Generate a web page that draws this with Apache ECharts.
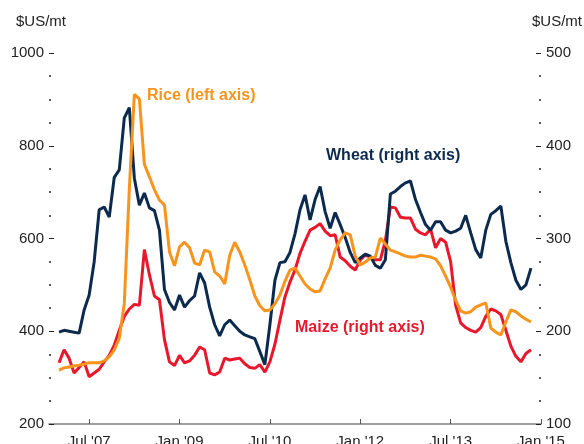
<!DOCTYPE html>
<html>
<head>
<meta charset="utf-8">
<script src="https://cdn.jsdelivr.net/npm/echarts@6/dist/echarts.min.js"></script>
<style>
  html, body { margin: 0; padding: 0; background: #fff; }
  #chart { width: 584px; height: 444px; }
</style>
</head>
<body>
<div id="chart"></div>
<script>
// months counted from Jul 2007 (= 0); data run monthly from Jan 2007
const firstMonth = -6;
const xTickPos = [0, 18, 36, 54, 72, 90];
const xTickLabels = ["Jul '07", "Jan '09", "Jul '10", "Jan '12", "Jul '13", "Jan '15"];

// $US/mt, right axis
const wheat = [199, 201, 200, 199, 198, 223, 239, 275, 331, 334,
  323, 366, 374, 430, 441, 365, 336, 349, 333, 330,
  309, 245, 231, 223, 239, 226, 233, 238, 263, 252,
  226, 207, 195, 207, 212, 206, 200, 196, 194, 192,
  178, 164, 207, 255, 274, 275, 285, 305, 331, 347,
  320, 342, 356, 329, 311, 328, 315, 301, 285, 274,
  279, 283, 281, 271, 268, 277, 348, 351, 356, 360,
  362, 342, 328, 315, 309, 318, 318, 309, 306, 308,
  311, 325, 306, 288, 279, 309, 326, 330, 335, 297,
  274, 255, 245, 250, 268];

// $US/mt, left axis
const rice = [316, 321, 323, 325, 327, 329, 332, 332, 332, 336,
  345, 360, 385, 460, 707, 911, 901, 760, 733, 705,
  683, 672, 571, 541, 582, 592, 580, 547, 543, 575,
  571, 528, 519, 502, 564, 592, 571, 543, 511, 476,
  455, 444, 446, 459, 478, 508, 532, 536, 519, 502,
  491, 485, 487, 513, 536, 575, 597, 612, 608, 562,
  543, 549, 558, 560, 601, 588, 575, 571, 567, 562,
  560, 560, 564, 562, 560, 556, 541, 519, 495, 467,
  444, 439, 442, 452, 457, 461, 407, 398, 392, 420,
  446, 442, 433, 426, 420];

// $US/mt, right axis
const maize = [166, 180, 171, 155, 161, 167, 151, 155, 159, 167,
  174, 185, 201, 216, 224, 229, 228, 288, 261, 238,
  234, 191, 167, 163, 174, 166, 168, 174, 183, 180,
  155, 153, 156, 171, 169, 170, 171, 165, 161, 160,
  164, 156, 167, 186, 212, 237, 253, 266, 284, 297,
  309, 312, 316, 308, 303, 304, 280, 276, 270, 266,
  277, 282, 280, 277, 277, 298, 334, 333, 323, 322,
  322, 310, 306, 304, 310, 290, 300, 296, 275, 228,
  209, 204, 201, 199, 204, 216, 224, 222, 218, 201,
  184, 173, 167, 176, 180];

const FONT = "Liberation Sans, Arial, sans-serif";
const NAVY = "#0b2a4e";
const ORANGE = "#f7941d";
const RED = "#e8182c";

const pairs = arr => arr.map((v, i) => [firstMonth + i, v]);

const chart = echarts.init(document.getElementById("chart"), null, { renderer: "canvas" });

const yCommon = {
  type: "value",
  splitLine: { show: false },
  axisLine: { show: false, onZero: false },
  axisTick: { show: true, inside: true, length: 5, lineStyle: { color: "#222", width: 1 } },
  minorTick: { show: true, splitNumber: 4, length: 2, lineStyle: { color: "#222", width: 1.5 } },
  minorSplitLine: { show: false },
  axisLabel: { color: "#222", fontSize: 15, fontFamily: FONT, margin: 5, formatter: v => String(v) }
};

chart.setOption({
  animation: false,
  grid: { left: 49, right: 43, top: 53, bottom: 20, containLabel: false, outerBoundsMode: "none" },
  xAxis: {
    type: "value",
    min: -8,
    max: 90,
    splitLine: { show: false },
    axisLine: { show: true, onZero: false, lineStyle: { color: "#808080", width: 1.5 } },
    axisTick: { show: true, inside: true, length: 5, customValues: xTickPos, lineStyle: { color: "#555", width: 1 } },
    axisLabel: {
      customValues: xTickPos,
      margin: 10,
      color: "#222",
      fontSize: 15,
      fontFamily: FONT,
      formatter: v => xTickLabels[xTickPos.indexOf(v)]
    }
  },
  yAxis: [
    Object.assign({}, yCommon, { position: "left", min: 200, max: 1000, interval: 200 }),
    Object.assign({}, yCommon, { position: "right", min: 100, max: 500, interval: 100 })
  ],
  series: [
    { name: "Maize", type: "line", yAxisIndex: 1, data: pairs(maize), showSymbol: false,
      lineStyle: { color: RED, width: 3 }, z: 2 },
    { name: "Wheat", type: "line", yAxisIndex: 1, data: pairs(wheat), showSymbol: false,
      lineStyle: { color: NAVY, width: 3 }, z: 3 },
    { name: "Rice", type: "line", yAxisIndex: 0, data: pairs(rice), showSymbol: false,
      lineStyle: { color: ORANGE, width: 3 }, z: 4 }
  ],
  graphic: [
    { type: "text", left: 16, top: 14, style: { text: "$US/mt", fill: "#222", font: "15px " + FONT } },
    { type: "text", right: 2, top: 14, style: { text: "$US/mt", fill: "#222", font: "15px " + FONT } },
    { type: "text", left: 147, top: 88, style: { text: "Rice (left axis)", fill: ORANGE, font: "bold 16px " + FONT } },
    { type: "text", left: 326, top: 148, style: { text: "Wheat (right axis)", fill: NAVY, font: "bold 16px " + FONT } },
    { type: "text", left: 295, top: 320, style: { text: "Maize (right axis)", fill: RED, font: "bold 16px " + FONT } }
  ]
});
</script>
</body>
</html>
